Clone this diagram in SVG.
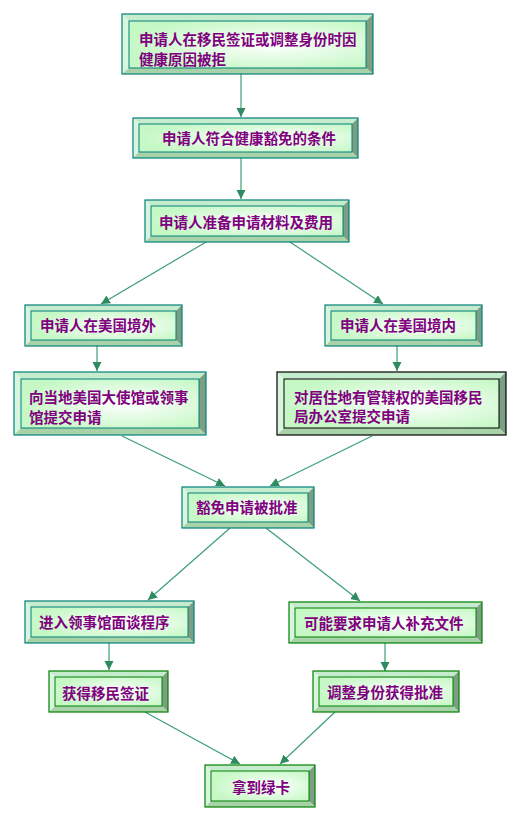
<svg xmlns="http://www.w3.org/2000/svg" width="522" height="814" viewBox="0 0 522 814">
<style>
.t{font-family:"Noto Sans CJK SC","Noto Sans CJK TC",sans-serif;font-size:14.5px;font-weight:bold;fill:#800080;dominant-baseline:central}
.bt{fill:#c6ecce}
.bl{fill:#d8f6de}
.br{fill:#7c9e82}
.bb{fill:#a8d2a8}
.teal{stroke:#00807a}
.grn{stroke:#008000}
.blk{stroke:#000000}
.o{fill:none;stroke-width:1.2}
.in{fill:url(#g);stroke-width:1}
.c{fill:none;stroke:#3c9e76;stroke-width:1.2;marker-end:url(#a)}
</style>
<defs>
<radialGradient id="g" cx="0.6" cy="0.5" r="0.6">
<stop offset="0" stop-color="#ffffff"/>
<stop offset="1" stop-color="#c6f8c6"/>
</radialGradient>
<marker id="a" markerWidth="10" markerHeight="10" refX="9" refY="4.5" orient="auto" markerUnits="userSpaceOnUse">
<path d="M0,0 L9,4.5 L0,9 Z" fill="#2e8b60"/>
</marker>
</defs>
<g id="connectors">
<path class="c" d="M241,74 L241,117"/>
<path class="c" d="M241,158 L241,199"/>
<path class="c" d="M206,242 L101,304"/>
<path class="c" d="M290,242 L383,304"/>
<path class="c" d="M97,346 L97,371"/>
<path class="c" d="M397,346 L397,371"/>
<path class="c" d="M122,436 L225,486"/>
<path class="c" d="M372,436 L270,486"/>
<path class="c" d="M230,528 L148,600"/>
<path class="c" d="M266,528 L360,601"/>
<path class="c" d="M109,643 L109,670"/>
<path class="c" d="M385,643 L385,671"/>
<path class="c" d="M145,712 L240,764"/>
<path class="c" d="M335,712 L280,764"/>
</g>
<g id="n1">
<polygon class="bt" points="122,14 373,14 366,21 129,21"/><polygon class="bl" points="122,14 129,21 129,68 122,74"/><polygon class="br" points="373,14 373,74 366,68 366,21"/><polygon class="bb" points="122,74 373,74 366,68 129,68"/>
<rect class="in teal" x="129" y="21" width="237" height="47"/><rect class="o teal" x="122" y="14" width="251" height="60"/>
<text class="t" x="139" y="38">申请人在移民签证或调整身份时因</text><text class="t" x="139" y="58">健康原因被拒</text>
</g>
<g id="n2">
<polygon class="bt" points="133,118 358,118 352,124 139,124"/><polygon class="bl" points="133,118 139,124 139,152 133,158"/><polygon class="br" points="358,118 358,158 352,152 352,124"/><polygon class="bb" points="133,158 358,158 352,152 139,152"/>
<rect class="in teal" x="139" y="124" width="213" height="28"/><rect class="o teal" x="133" y="118" width="225" height="40"/>
<text class="t" x="162" y="137">申请人符合健康豁免的条件</text>
</g>
<g id="n3">
<polygon class="bt" points="145,200 349,200 343,206 151,206"/><polygon class="bl" points="145,200 151,206 151,236 145,242"/><polygon class="br" points="349,200 349,242 343,236 343,206"/><polygon class="bb" points="145,242 349,242 343,236 151,236"/>
<rect class="in teal" x="151" y="206" width="192" height="30"/><rect class="o teal" x="145" y="200" width="204" height="42"/>
<text class="t" x="159" y="221">申请人准备申请材料及费用</text>
</g>
<g id="n4">
<polygon class="bt" points="25,305 182,305 176,311 31,311"/><polygon class="bl" points="25,305 31,311 31,340 25,346"/><polygon class="br" points="182,305 182,346 176,340 176,311"/><polygon class="bb" points="25,346 182,346 176,340 31,340"/>
<rect class="in teal" x="31" y="311" width="145" height="29"/><rect class="o teal" x="25" y="305" width="157" height="41"/>
<text class="t" x="40" y="324">申请人在美国境外</text>
</g>
<g id="n5">
<polygon class="bt" points="325,305 482,305 476,311 331,311"/><polygon class="bl" points="325,305 331,311 331,340 325,346"/><polygon class="br" points="482,305 482,346 476,340 476,311"/><polygon class="bb" points="325,346 482,346 476,340 331,340"/>
<rect class="in teal" x="331" y="311" width="145" height="29"/><rect class="o teal" x="325" y="305" width="157" height="41"/>
<text class="t" x="340" y="324">申请人在美国境内</text>
</g>
<g id="n6">
<polygon class="bt" points="14,372 206,372 199,379 21,379"/><polygon class="bl" points="14,372 21,379 21,428 14,435"/><polygon class="br" points="206,372 206,435 199,428 199,379"/><polygon class="bb" points="14,435 206,435 199,428 21,428"/>
<rect class="in teal" x="21" y="379" width="178" height="49"/><rect class="o teal" x="14" y="372" width="192" height="63"/>
<text class="t" x="29" y="396">向当地美国大使馆或领事</text><text class="t" x="29" y="416">馆提交申请</text>
</g>
<g id="n7">
<polygon class="bt" points="277,372 506,372 499,379 284,379"/><polygon class="bl" points="277,372 284,379 284,428 277,435"/><polygon class="br" points="506,372 506,435 499,428 499,379"/><polygon class="bb" points="277,435 506,435 499,428 284,428"/>
<rect class="in blk" x="284" y="379" width="215" height="49"/><rect class="o blk" x="277" y="372" width="229" height="63"/>
<text class="t" x="294" y="396">对居住地有管辖权的美国移民</text><text class="t" x="294" y="415">局办公室提交申请</text>
</g>
<g id="n8">
<polygon class="bt" points="182,487 314,487 308,493 188,493"/><polygon class="bl" points="182,487 188,493 188,522 182,528"/><polygon class="br" points="314,487 314,528 308,522 308,493"/><polygon class="bb" points="182,528 314,528 308,522 188,522"/>
<rect class="in teal" x="188" y="493" width="120" height="29"/><rect class="o teal" x="182" y="487" width="132" height="41"/>
<text class="t" x="196" y="506">豁免申请被批准</text>
</g>
<g id="n9">
<polygon class="bt" points="25,601 194,601 188,607 31,607"/><polygon class="bl" points="25,601 31,607 31,637 25,643"/><polygon class="br" points="194,601 194,643 188,637 188,607"/><polygon class="bb" points="25,643 194,643 188,637 31,637"/>
<rect class="in teal" x="31" y="607" width="157" height="30"/><rect class="o teal" x="25" y="601" width="169" height="42"/>
<text class="t" x="39" y="621">进入领事馆面谈程序</text>
</g>
<g id="n10">
<polygon class="bt" points="289,602 482,602 476,608 295,608"/><polygon class="bl" points="289,602 295,608 295,637 289,643"/><polygon class="br" points="482,602 482,643 476,637 476,608"/><polygon class="bb" points="289,643 482,643 476,637 295,637"/>
<rect class="in grn" x="295" y="608" width="181" height="29"/><rect class="o grn" x="289" y="602" width="193" height="41"/>
<text class="t" x="304" y="622">可能要求申请人补充文件</text>
</g>
<g id="n11">
<polygon class="bt" points="49,671 168,671 162,677 55,677"/><polygon class="bl" points="49,671 55,677 55,706 49,712"/><polygon class="br" points="168,671 168,712 162,706 162,677"/><polygon class="bb" points="49,712 168,712 162,706 55,706"/>
<rect class="in grn" x="55" y="677" width="107" height="29"/><rect class="o grn" x="49" y="671" width="119" height="41"/>
<text class="t" x="62" y="692">获得移民签证</text>
</g>
<g id="n12">
<polygon class="bt" points="313,671 459,671 453,677 319,677"/><polygon class="bl" points="313,671 319,677 319,706 313,712"/><polygon class="br" points="459,671 459,712 453,706 453,677"/><polygon class="bb" points="313,712 459,712 453,706 319,706"/>
<rect class="in grn" x="319" y="677" width="134" height="29"/><rect class="o grn" x="313" y="671" width="146" height="41"/>
<text class="t" x="327" y="691">调整身份获得批准</text>
</g>
<g id="n13">
<polygon class="bt" points="205,765 315,765 309,771 211,771"/><polygon class="bl" points="205,765 211,771 211,801 205,807"/><polygon class="br" points="315,765 315,807 309,801 309,771"/><polygon class="bb" points="205,807 315,807 309,801 211,801"/>
<rect class="in grn" x="211" y="771" width="98" height="30"/><rect class="o grn" x="205" y="765" width="110" height="42"/>
<text class="t" x="232" y="786">拿到绿卡</text>
</g>
</svg>
